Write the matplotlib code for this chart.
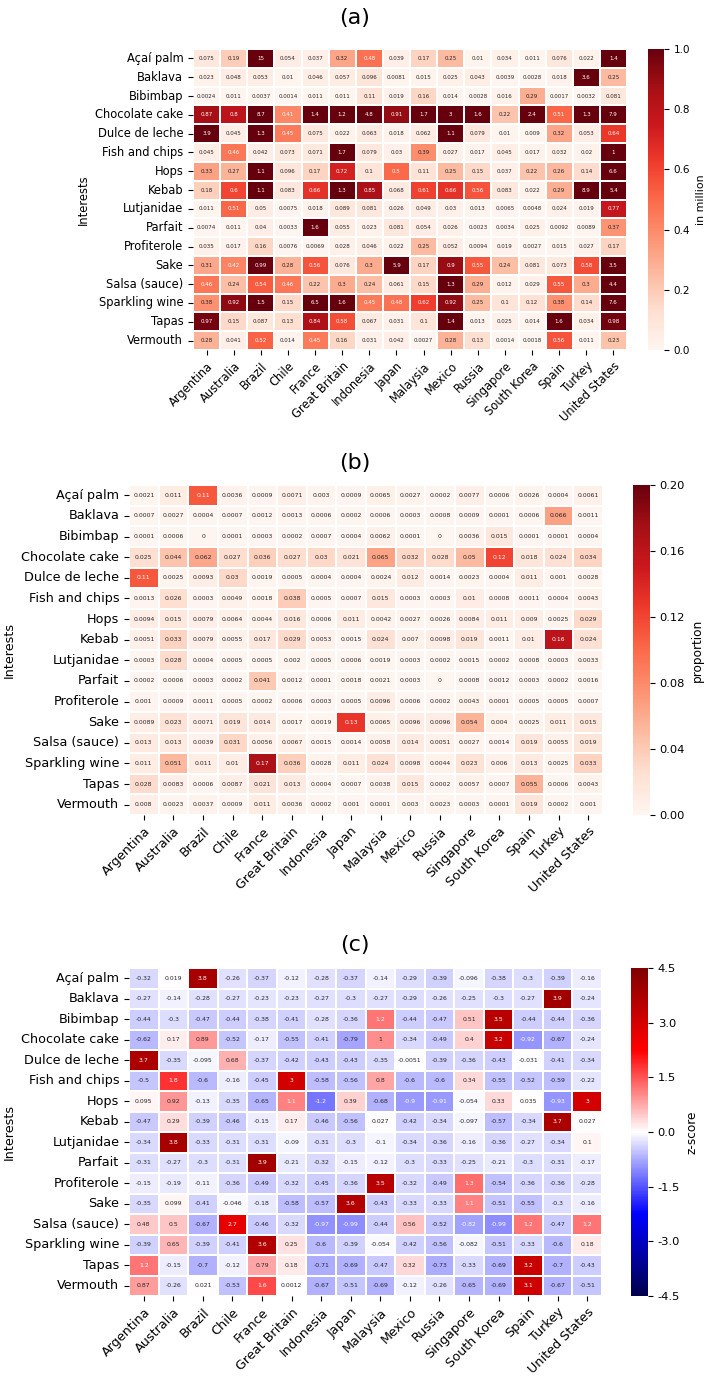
import numpy as np
import pandas as pd
import seaborn as sns
from matplotlib import pyplot as plt

countries = ['Argentina', 'Australia', 'Brazil', 'Chile', 'France', 'Great Britain',
             'Indonesia', 'Japan', 'Malaysia', 'Mexico', 'Russia', 'Singapore',
             'South Korea', 'Spain', 'Turkey', 'United States']
interests = ['Açaí palm', 'Baklava', 'Bibimbap', 'Chocolate cake', 'Dulce de leche',
             'Fish and chips', 'Hops', 'Kebab', 'Lutjanidae', 'Parfait', 'Profiterole',
             'Sake', 'Salsa (sauce)', 'Sparkling wine', 'Tapas', 'Vermouth']

# (a) audience size, in million
millions = [
    [0.075, 0.19, 15, 0.054, 0.037, 0.32, 0.48, 0.039, 0.17, 0.25, 0.01, 0.034, 0.011, 0.076, 0.022, 1.4],
    [0.023, 0.048, 0.053, 0.01, 0.046, 0.057, 0.096, 0.0081, 0.015, 0.025, 0.043, 0.0039, 0.0028, 0.018, 3.6, 0.25],
    [0.0024, 0.011, 0.0037, 0.0014, 0.011, 0.011, 0.11, 0.019, 0.16, 0.014, 0.0028, 0.016, 0.29, 0.0017, 0.0032, 0.081],
    [0.87, 0.8, 8.7, 0.41, 1.4, 1.2, 4.8, 0.91, 1.7, 3, 1.6, 0.22, 2.4, 0.51, 1.3, 7.9],
    [3.9, 0.045, 1.3, 0.45, 0.075, 0.022, 0.063, 0.018, 0.062, 1.1, 0.079, 0.01, 0.009, 0.32, 0.053, 0.64],
    [0.045, 0.46, 0.042, 0.073, 0.071, 1.7, 0.079, 0.03, 0.39, 0.027, 0.017, 0.045, 0.017, 0.032, 0.02, 1],
    [0.33, 0.27, 1.1, 0.096, 0.17, 0.72, 0.1, 0.5, 0.11, 0.25, 0.15, 0.037, 0.22, 0.26, 0.14, 6.6],
    [0.18, 0.6, 1.1, 0.083, 0.66, 1.3, 0.85, 0.068, 0.61, 0.66, 0.56, 0.083, 0.022, 0.29, 8.9, 5.4],
    [0.011, 0.51, 0.05, 0.0075, 0.018, 0.089, 0.081, 0.026, 0.049, 0.03, 0.013, 0.0065, 0.0048, 0.024, 0.019, 0.77],
    [0.0074, 0.011, 0.04, 0.0033, 1.6, 0.055, 0.023, 0.081, 0.054, 0.026, 0.0023, 0.0034, 0.025, 0.0092, 0.0089, 0.37],
    [0.035, 0.017, 0.16, 0.0076, 0.0069, 0.028, 0.046, 0.022, 0.25, 0.052, 0.0094, 0.019, 0.0027, 0.015, 0.027, 0.17],
    [0.31, 0.42, 0.99, 0.28, 0.56, 0.076, 0.3, 5.9, 0.17, 0.9, 0.55, 0.24, 0.081, 0.073, 0.58, 3.5],
    [0.46, 0.24, 0.54, 0.46, 0.22, 0.3, 0.24, 0.061, 0.15, 1.3, 0.29, 0.012, 0.029, 0.55, 0.3, 4.4],
    [0.38, 0.92, 1.5, 0.15, 6.5, 1.6, 0.45, 0.48, 0.62, 0.92, 0.25, 0.1, 0.12, 0.38, 0.14, 7.6],
    [0.97, 0.15, 0.087, 0.13, 0.84, 0.58, 0.067, 0.031, 0.1, 1.4, 0.013, 0.025, 0.014, 1.6, 0.034, 0.98],
    [0.28, 0.041, 0.52, 0.014, 0.45, 0.16, 0.031, 0.042, 0.0027, 0.28, 0.13, 0.0014, 0.0018, 0.56, 0.011, 0.23],
]

# (b) share of the country's users
proportion = [
    [0.0021, 0.011, 0.11, 0.0036, 0.0009, 0.0071, 0.003, 0.0009, 0.0065, 0.0027, 0.0002, 0.0077, 0.0006, 0.0026, 0.0004, 0.0061],
    [0.0007, 0.0027, 0.0004, 0.0007, 0.0012, 0.0013, 0.0006, 0.0002, 0.0006, 0.0003, 0.0008, 0.0009, 0.0001, 0.0006, 0.066, 0.0011],
    [0.0001, 0.0006, 0, 0.0001, 0.0003, 0.0002, 0.0007, 0.0004, 0.0062, 0.0001, 0, 0.0036, 0.015, 0.0001, 0.0001, 0.0004],
    [0.025, 0.044, 0.062, 0.027, 0.036, 0.027, 0.03, 0.021, 0.065, 0.032, 0.028, 0.05, 0.12, 0.018, 0.024, 0.034],
    [0.11, 0.0025, 0.0093, 0.03, 0.0019, 0.0005, 0.0004, 0.0004, 0.0024, 0.012, 0.0014, 0.0023, 0.0004, 0.011, 0.001, 0.0028],
    [0.0013, 0.026, 0.0003, 0.0049, 0.0018, 0.038, 0.0005, 0.0007, 0.015, 0.0003, 0.0003, 0.01, 0.0008, 0.0011, 0.0004, 0.0043],
    [0.0094, 0.015, 0.0079, 0.0064, 0.0044, 0.016, 0.0006, 0.011, 0.0042, 0.0027, 0.0026, 0.0084, 0.011, 0.009, 0.0025, 0.029],
    [0.0051, 0.033, 0.0079, 0.0055, 0.017, 0.029, 0.0053, 0.0015, 0.024, 0.007, 0.0098, 0.019, 0.0011, 0.01, 0.16, 0.024],
    [0.0003, 0.028, 0.0004, 0.0005, 0.0005, 0.002, 0.0005, 0.0006, 0.0019, 0.0003, 0.0002, 0.0015, 0.0002, 0.0008, 0.0003, 0.0033],
    [0.0002, 0.0006, 0.0003, 0.0002, 0.041, 0.0012, 0.0001, 0.0018, 0.0021, 0.0003, 0, 0.0008, 0.0012, 0.0003, 0.0002, 0.0016],
    [0.001, 0.0009, 0.0011, 0.0005, 0.0002, 0.0006, 0.0003, 0.0005, 0.0096, 0.0006, 0.0002, 0.0043, 0.0001, 0.0005, 0.0005, 0.0007],
    [0.0089, 0.023, 0.0071, 0.019, 0.014, 0.0017, 0.0019, 0.13, 0.0065, 0.0096, 0.0096, 0.054, 0.004, 0.0025, 0.011, 0.015],
    [0.013, 0.013, 0.0039, 0.031, 0.0056, 0.0067, 0.0015, 0.0014, 0.0058, 0.014, 0.0051, 0.0027, 0.0014, 0.019, 0.0055, 0.019],
    [0.011, 0.051, 0.011, 0.01, 0.17, 0.036, 0.0028, 0.011, 0.024, 0.0098, 0.0044, 0.023, 0.006, 0.013, 0.0025, 0.033],
    [0.028, 0.0083, 0.0006, 0.0087, 0.021, 0.013, 0.0004, 0.0007, 0.0038, 0.015, 0.0002, 0.0057, 0.0007, 0.055, 0.0006, 0.0043],
    [0.008, 0.0023, 0.0037, 0.0009, 0.011, 0.0036, 0.0002, 0.001, 0.0001, 0.003, 0.0023, 0.0003, 0.0001, 0.019, 0.0002, 0.001],
]

# (c) z-score per interest
zscore = [
    [-0.32, 0.019, 3.8, -0.26, -0.37, -0.12, -0.28, -0.37, -0.14, -0.29, -0.39, -0.096, -0.38, -0.3, -0.39, -0.16],
    [-0.27, -0.14, -0.28, -0.27, -0.23, -0.23, -0.27, -0.3, -0.27, -0.29, -0.26, -0.25, -0.3, -0.27, 3.9, -0.24],
    [-0.44, -0.3, -0.47, -0.44, -0.38, -0.41, -0.28, -0.36, 1.2, -0.44, -0.47, 0.51, 3.5, -0.44, -0.44, -0.36],
    [-0.62, 0.17, 0.89, -0.52, -0.17, -0.55, -0.41, -0.79, 1, -0.34, -0.49, 0.4, 3.2, -0.92, -0.67, -0.24],
    [3.7, -0.35, -0.095, 0.68, -0.37, -0.42, -0.43, -0.43, -0.35, -0.0051, -0.39, -0.36, -0.43, -0.031, -0.41, -0.34],
    [-0.5, 1.8, -0.6, -0.16, -0.45, 3, -0.58, -0.56, 0.8, -0.6, -0.6, 0.34, -0.55, -0.52, -0.59, -0.22],
    [0.095, 0.92, -0.13, -0.35, -0.65, 1.1, -1.2, 0.39, -0.68, -0.9, -0.91, -0.054, 0.33, 0.035, -0.93, 3],
    [-0.47, 0.29, -0.39, -0.46, -0.15, 0.17, -0.46, -0.56, 0.027, -0.42, -0.34, -0.097, -0.57, -0.34, 3.7, 0.027],
    [-0.34, 3.8, -0.33, -0.31, -0.31, -0.09, -0.31, -0.3, -0.1, -0.34, -0.36, -0.16, -0.36, -0.27, -0.34, 0.1],
    [-0.31, -0.27, -0.3, -0.31, 3.9, -0.21, -0.32, -0.15, -0.12, -0.3, -0.33, -0.25, -0.21, -0.3, -0.31, -0.17],
    [-0.15, -0.19, -0.11, -0.36, -0.49, -0.32, -0.45, -0.36, 3.5, -0.32, -0.49, 1.3, -0.54, -0.36, -0.36, -0.28],
    [-0.35, 0.099, -0.41, -0.046, -0.18, -0.58, -0.57, 3.6, -0.43, -0.33, -0.33, 1.1, -0.51, -0.55, -0.3, -0.16],
    [0.48, 0.5, -0.67, 2.7, -0.46, -0.32, -0.97, -0.99, -0.44, 0.56, -0.52, -0.82, -0.99, 1.2, -0.47, 1.2],
    [-0.39, 0.65, -0.39, -0.41, 3.6, 0.25, -0.6, -0.39, -0.054, -0.42, -0.56, -0.082, -0.51, -0.33, -0.6, 0.18],
    [1.2, -0.15, -0.7, -0.12, 0.79, 0.18, -0.71, -0.69, -0.47, 0.32, -0.73, -0.33, -0.69, 3.2, -0.7, -0.43],
    [0.87, -0.26, 0.021, -0.53, 1.6, 0.0012, -0.67, -0.51, -0.69, -0.12, -0.26, -0.65, -0.69, 3.1, -0.67, -0.51],
]

W, H = 709, 1376


def box(x0, y0, x1, y1):
    # pixel box (top-left origin) -> figure fraction
    return [x0 / W, 1 - y1 / H, (x1 - x0) / W, (y1 - y0) / H]


fig = plt.figure(figsize=(W / 100, H / 100), dpi=100)

# panel (a) was drawn a bit smaller than (b) and (c), so its fonts are too
panels = [
    ('(a)', millions, 'Reds', 0, 1.0, np.arange(0, 1.01, 0.2), '%.1f', 'in million',
     box(193, 49, 627, 350), box(648, 49, 664, 350), 4.0, 8.3, 18),
    ('(b)', proportion, 'Reds', 0, 0.2, np.arange(0, 0.201, 0.04), '%.2f', 'proportion',
     box(129, 485, 603, 815), box(633, 485, 650, 815), 4.4, 9.2, 463),
    ('(c)', zscore, 'seismic', -4.5, 4.5, np.arange(-4.5, 4.51, 1.5), '%.1f', 'z-score',
     box(129, 968, 602, 1296), box(631, 968, 648, 1296), 4.4, 9.2, 945),
]

for title, vals, cmap, lo, hi, ticks, tfmt, clabel, hpos, cpos, afs, fs, ty in panels:
    df = pd.DataFrame(vals, index=interests, columns=countries)
    ax = fig.add_axes(hpos)
    cax = fig.add_axes(cpos)
    sns.heatmap(df, ax=ax, cbar_ax=cax, cmap=cmap, vmin=lo, vmax=hi,
                annot=True, fmt='.2g', annot_kws={'size': afs},
                linewidths=0.2, linecolor='white')
    ax.set_ylabel('Interests', fontsize=fs)
    ax.tick_params(axis='y', labelsize=fs, rotation=0)
    ax.tick_params(axis='x', labelsize=fs)
    plt.setp(ax.get_xticklabels(), rotation=45, ha='right', rotation_mode='anchor')
    cax.set_yticks(ticks)
    cax.set_yticklabels([tfmt % t for t in ticks])
    cax.tick_params(labelsize=fs * 0.9)
    cax.set_ylabel(clabel, fontsize=fs * 0.95)
    fig.text(0.5, 1 - ty / H, title, ha='center', va='center', fontsize=16)

fig.savefig('out.png', dpi=100)
